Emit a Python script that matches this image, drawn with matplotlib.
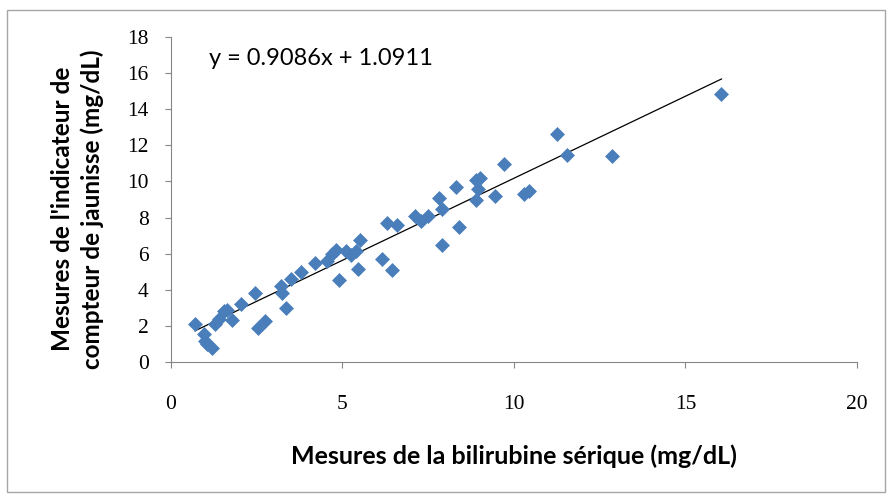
import numpy as np
import matplotlib.pyplot as plt
from matplotlib.patches import Rectangle

# Mesures de la bilirubine sérique (mg/dL)
bili = [0.70, 0.95, 1.00, 1.05, 1.20, 1.28, 1.40, 1.55, 1.62, 1.78,
        2.05, 2.45, 2.55, 2.75, 3.20, 3.25, 3.35, 3.50, 3.80, 4.20,
        4.55, 4.70, 4.80, 4.90, 5.10, 5.25, 5.40, 5.50, 5.45, 6.15,
        6.30, 6.45, 6.60, 7.10, 7.30, 7.50, 7.80, 7.90, 7.90, 8.30,
        8.40, 8.90, 9.00, 8.95, 8.90, 9.45, 9.70, 10.30, 10.45, 11.25,
        11.55, 12.85, 16.05]
# Mesures de l'indicateur de compteur de jaunisse (mg/dL)
jaun = [2.08, 1.55, 1.15, 1.00, 0.78, 2.10, 2.40, 2.80, 2.90, 2.35,
        3.20, 3.80, 1.90, 2.25, 4.20, 3.80, 3.00, 4.58, 5.00, 5.48,
        5.60, 6.00, 6.20, 4.55, 6.15, 5.95, 6.15, 6.78, 5.15, 5.70,
        7.68, 5.08, 7.58, 8.08, 7.80, 8.08, 9.10, 8.45, 6.48, 9.68,
        7.48, 10.08, 10.18, 9.58, 8.95, 9.18, 10.98, 9.32, 9.48, 12.60,
        11.48, 11.40, 14.82]

slope, intercept = 0.9086, 1.0911

fig = plt.figure(figsize=(8.92, 4.98), dpi=100)
fig.patches.append(Rectangle((0.008, 0.012), 0.984, 0.968, transform=fig.transFigure,
                             fill=False, edgecolor='#a6a6a6', linewidth=1.0))
ax = fig.add_axes([0.1917, 0.2731, 0.769, 0.6526])

ax.scatter(bili, jaun, marker='D', s=58, color='#4a7ebb', linewidths=0, zorder=3)

xl = np.array([min(bili), max(bili)])
ax.plot(xl, slope * xl + intercept, color='black', linewidth=0.9, zorder=2)

ax.text(1.12, 16.8, 'y = 0.9086x + 1.0911', fontsize=17, family='Lato', va='center')

ax.set_xlim(0, 20)
ax.set_ylim(0, 18)
ax.set_xticks(np.arange(0, 21, 5))
ax.set_yticks(np.arange(0, 19, 2))
for s in ['top', 'right']:
    ax.spines[s].set_visible(False)
for s in ['left', 'bottom']:
    ax.spines[s].set_color('#868686')
ax.tick_params(axis='both', direction='out', length=4, color='#868686',
               labelsize=15.5)
ax.tick_params(axis='x', pad=20)
ax.tick_params(axis='y', pad=12)
for lab in ax.get_xticklabels() + ax.get_yticklabels():
    lab.set_family('Liberation Serif')

ax.set_xlabel('Mesures de la bilirubine sérique (mg/dL)', fontsize=18,
              fontweight='bold', family='Lato', labelpad=22)
ax.set_ylabel("Mesures de l'indicateur de\ncompteur de jaunisse (mg/dL)", fontsize=17.5,
              fontweight='bold', family='Lato', linespacing=1.3)
ax.yaxis.set_label_coords(-0.098, 0.47)

plt.savefig('out.png', dpi=100)
